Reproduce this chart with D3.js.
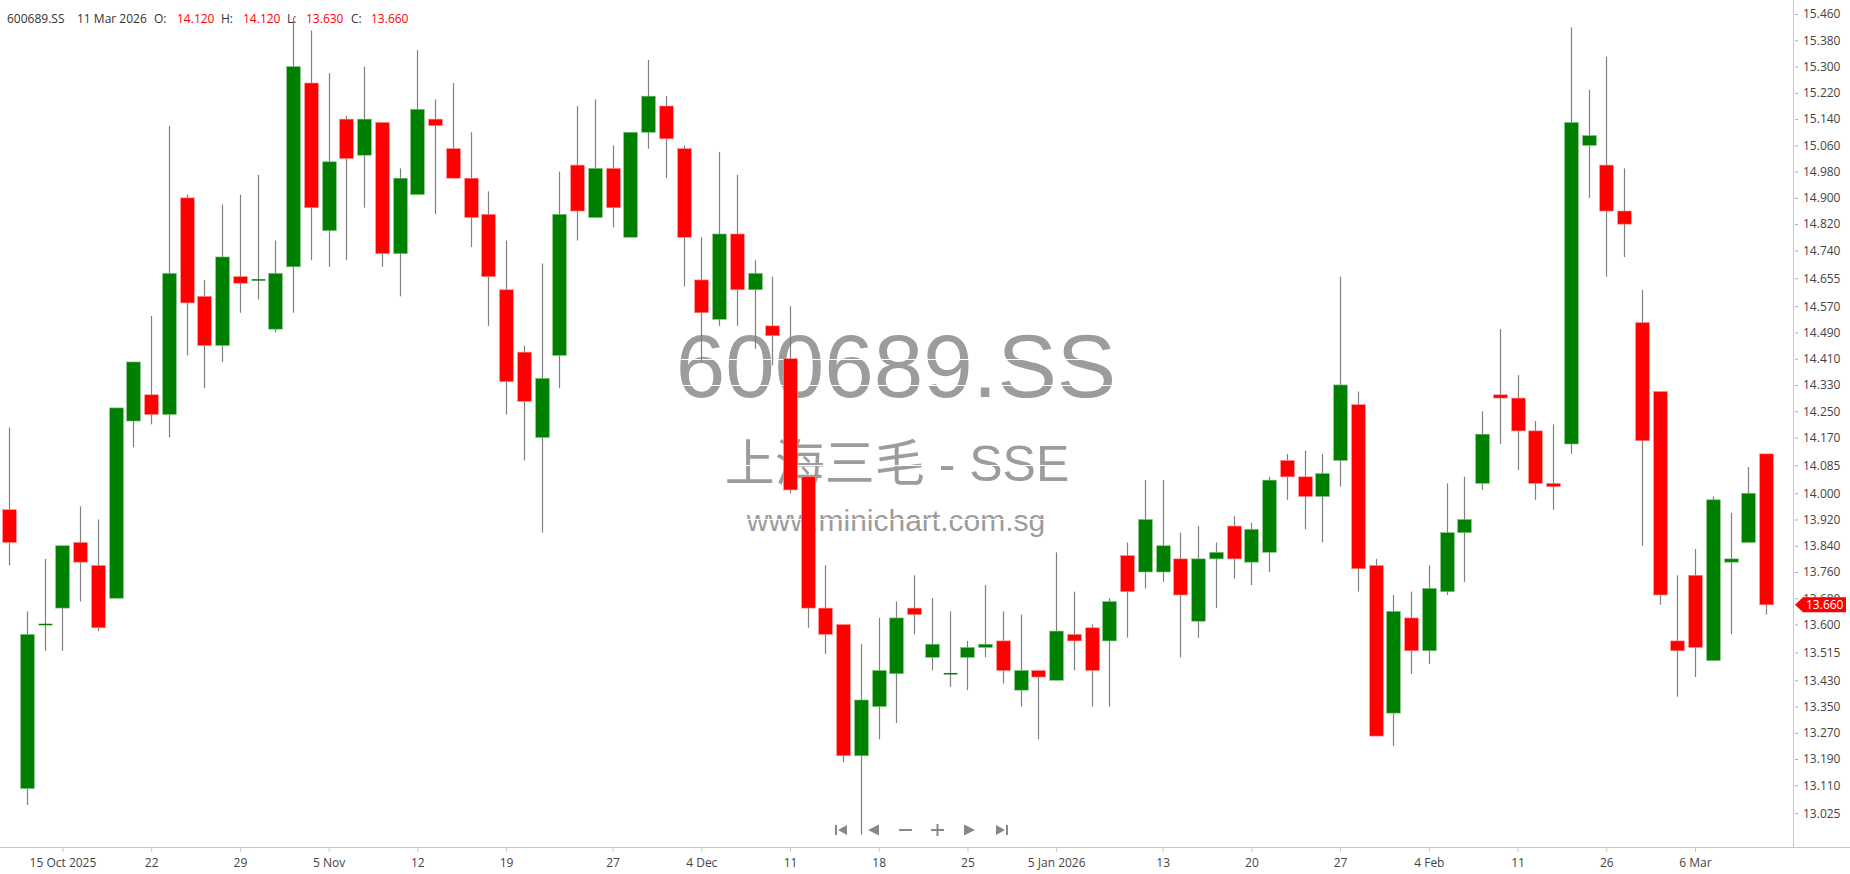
<!DOCTYPE html>
<html><head><meta charset="utf-8">
<script src="https://cdn.jsdelivr.net/npm/d3@7"></script>
<style>
html,body{margin:0;padding:0;background:#fff;overflow:hidden}
svg{display:block}
</style></head><body>
<svg id="c" width="1850" height="874"></svg>
<script>
// ---------------- DATA ----------------
const dates = [
"2025-10-10","2025-10-13","2025-10-14","2025-10-15","2025-10-16","2025-10-17","2025-10-20","2025-10-21","2025-10-22","2025-10-23",
"2025-10-24","2025-10-27","2025-10-28","2025-10-29","2025-10-30","2025-10-31","2025-11-03","2025-11-04","2025-11-05","2025-11-06",
"2025-11-07","2025-11-10","2025-11-11","2025-11-12","2025-11-13","2025-11-14","2025-11-17","2025-11-18","2025-11-19","2025-11-20",
"2025-11-21","2025-11-24","2025-11-25","2025-11-26","2025-11-27","2025-11-28","2025-12-01","2025-12-02","2025-12-03","2025-12-04",
"2025-12-05","2025-12-08","2025-12-09","2025-12-10","2025-12-11","2025-12-12","2025-12-15","2025-12-16","2025-12-17","2025-12-18",
"2025-12-19","2025-12-22","2025-12-23","2025-12-24","2025-12-25","2025-12-26","2025-12-29","2025-12-30","2025-12-31","2026-01-05",
"2026-01-06","2026-01-07","2026-01-08","2026-01-09","2026-01-12","2026-01-13","2026-01-14","2026-01-15","2026-01-16","2026-01-19",
"2026-01-20","2026-01-21","2026-01-22","2026-01-23","2026-01-26","2026-01-27","2026-01-28","2026-01-29","2026-02-02","2026-02-03",
"2026-02-04","2026-02-05","2026-02-06","2026-02-09","2026-02-10","2026-02-11","2026-02-12","2026-02-13","2026-02-24","2026-02-25",
"2026-02-26","2026-02-27","2026-03-02","2026-03-03","2026-03-04","2026-03-05","2026-03-06","2026-03-09","2026-03-10","2026-03-11"];

const open = [
13.95,13.10,13.60,13.65,13.85,13.78,13.68,14.22,14.30,14.24,
14.90,14.60,14.45,14.66,14.65,14.50,14.69,15.25,14.80,15.14,
15.03,15.13,14.73,14.91,15.14,15.05,14.96,14.85,14.62,14.43,
14.17,14.42,15.00,14.84,14.99,14.78,15.10,15.18,15.05,14.65,
14.53,14.79,14.62,14.51,14.41,14.05,13.65,13.60,13.20,13.35,
13.45,13.65,13.50,13.45,13.50,13.53,13.55,13.40,13.46,13.43,
13.57,13.59,13.55,13.81,13.76,13.76,13.80,13.61,13.80,13.90,
13.79,13.82,14.10,14.05,13.99,14.10,14.27,13.78,13.33,13.62,
13.52,13.70,13.88,14.03,14.30,14.29,14.19,14.03,14.15,15.06,
15.00,14.86,14.52,14.31,13.55,13.75,13.49,13.79,13.85,14.12];

const high = [
14.20,13.64,13.80,13.84,13.96,13.92,14.26,14.40,14.54,15.12,
14.91,14.65,14.88,14.91,14.97,14.77,15.45,15.41,15.28,15.15,
15.30,15.13,14.99,15.35,15.20,15.25,15.10,14.92,14.77,14.45,
14.70,14.98,15.18,15.20,15.06,15.10,15.32,15.21,15.06,14.78,
15.04,14.97,14.71,14.66,14.57,14.05,13.78,13.60,13.54,13.62,
13.67,13.75,13.68,13.64,13.55,13.72,13.64,13.63,13.46,13.82,
13.70,13.60,13.68,13.85,14.04,14.04,13.88,13.90,13.85,13.93,
13.91,14.05,14.12,14.13,14.12,14.66,14.31,13.80,13.69,13.70,
13.78,14.03,14.05,14.25,14.50,14.36,14.22,14.21,15.42,15.23,
15.33,14.99,14.62,14.31,13.75,13.83,13.99,13.94,14.08,14.12];

const low = [
13.78,13.05,13.52,13.52,13.67,13.58,13.68,14.14,14.21,14.17,
14.42,14.32,14.40,14.55,14.59,14.49,14.55,14.71,14.69,14.71,
14.87,14.69,14.60,14.91,14.85,14.96,14.75,14.51,14.24,14.10,
13.88,14.32,14.77,14.84,14.81,14.78,15.05,14.96,14.63,14.40,
14.51,14.51,14.44,14.39,14.00,13.59,13.51,13.18,12.96,13.25,
13.30,13.57,13.46,13.41,13.40,13.50,13.42,13.35,13.25,13.43,
13.46,13.35,13.35,13.56,13.71,13.73,13.50,13.56,13.65,13.74,
13.72,13.76,13.98,13.89,13.85,14.02,13.70,13.26,13.23,13.45,
13.48,13.69,13.73,14.01,14.15,14.07,13.98,13.95,14.12,14.90,
14.66,14.72,13.84,13.66,13.38,13.44,13.49,13.57,13.85,13.63];

const close = [
13.85,13.57,13.60,13.84,13.79,13.59,14.26,14.40,14.24,14.67,
14.58,14.45,14.72,14.64,14.65,14.67,15.30,14.87,15.01,15.02,
15.14,14.73,14.96,15.17,15.12,14.96,14.84,14.66,14.34,14.28,
14.35,14.85,14.86,14.99,14.87,15.10,15.21,15.08,14.78,14.55,
14.79,14.62,14.67,14.48,14.01,13.65,13.57,13.20,13.37,13.46,
13.62,13.63,13.54,13.45,13.53,13.54,13.46,13.46,13.44,13.58,
13.55,13.46,13.67,13.70,13.92,13.84,13.69,13.80,13.82,13.80,
13.89,14.04,14.05,13.99,14.06,14.33,13.77,13.26,13.64,13.52,
13.71,13.88,13.92,14.18,14.29,14.19,14.03,14.02,15.13,15.09,
14.86,14.82,14.16,13.69,13.52,13.53,13.98,13.80,14.00,13.66];

const yTickValues = [15.460,15.380,15.300,15.220,15.140,15.060,14.980,14.900,14.820,14.740,
  14.655,14.570,14.490,14.410,14.330,14.250,14.170,14.085,14.000,13.920,
  13.840,13.760,13.680,13.600,13.515,13.430,13.350,13.270,13.190,13.110,13.025];

const xTickDates = ["2025-10-15","2025-10-22","2025-10-29","2025-11-05","2025-11-12","2025-11-19",
  "2025-11-27","2025-12-04","2025-12-11","2025-12-18","2025-12-25","2026-01-05","2026-01-13",
  "2026-01-20","2026-01-27","2026-02-04","2026-02-11","2026-02-26","2026-03-05"];
const xTickLabels = ["15 Oct 2025","22","29","5 Nov","12","19","27","4 Dec","11","18","25",
  "5 Jan 2026","13","20","27","4 Feb","11","26","6 Mar"];

const symbol = "600689.SS";
const companyName = "上海三毛 - SSE";
const site = "www.minichart.com.sg";
const lastDateLabel = "11 Mar 2026";

// ---------------- CHART ----------------
const W = 1850, H = 874;
const plotRight = 1793, plotBottom = 847;
const UP = "#008000", DOWN = "#ff0000", WICK = "#808080", AXIS = "#c8c8c8";
const FONT = "'Open Sans', 'Liberation Sans', sans-serif";

const svg = d3.select("#c");
const x = d3.scalePoint().domain(dates).range([9.2, 1766]);
const y = d3.scaleLinear().domain([12.922, 15.503]).range([plotBottom, 0]);
const bw = x.step() * 0.77;

const data = dates.map((d, i) => ({ d, o: open[i], h: high[i], l: low[i], c: close[i] }));

// watermark
const wm = svg.append("g").attr("fill", "#9c9c9c").attr("text-anchor", "middle");
wm.append("text").attr("x", 896).attr("y", 397)
  .style("font-family", "'Liberation Sans', Arial, sans-serif").style("font-size", "89px").text(symbol);
wm.append("text").attr("x", 897).attr("y", 481)
  .style("font-family", "'Liberation Sans', 'Noto Sans CJK SC', sans-serif").style("font-size", "50px").text(companyName);
wm.append("text").attr("x", 896).attr("y", 531)
  .style("font-family", "'Liberation Sans', Arial, sans-serif").style("font-size", "30px").text(site);

// white grid (visible only over watermark)
svg.append("g").selectAll("line").data(yTickValues).join("line")
  .attr("x1", 0).attr("x2", plotRight)
  .attr("y1", d => Math.round(y(d)) + 0.5).attr("y2", d => Math.round(y(d)) + 0.5)
  .attr("stroke", "#fff").attr("stroke-width", 1);

// candles
const cg = svg.append("g");
cg.selectAll("line.wick").data(data).join("line").attr("class", "wick")
  .attr("x1", d => Math.round(x(d.d)) + 0.5).attr("x2", d => Math.round(x(d.d)) + 0.5)
  .attr("y1", d => y(d.h)).attr("y2", d => y(d.l))
  .attr("stroke", WICK).attr("stroke-width", 1.2);

cg.selectAll("rect.body").data(data).join("rect").attr("class", "body")
  .attr("x", d => Math.round(x(d.d)) + 0.5 - bw / 2)
  .attr("width", bw)
  .attr("y", d => {
    const t = y(Math.max(d.o, d.c)), b = y(Math.min(d.o, d.c));
    return (b - t) < 1.5 ? (t + b) / 2 - 0.75 : t;
  })
  .attr("height", d => Math.max(1.5, Math.abs(y(d.o) - y(d.c))))
  .attr("fill", d => d.c >= d.o ? UP : DOWN)
  .attr("stroke", d => d.c >= d.o ? "#7fc07f" : "#ff8a8a")
  .attr("stroke-width", d => Math.abs(y(d.o) - y(d.c)) < 3 ? 0 : 0.6);

// y axis
svg.append("line").attr("x1", plotRight + 0.5).attr("x2", plotRight + 0.5)
  .attr("y1", 0).attr("y2", plotBottom).attr("stroke", AXIS);
const yAxis = svg.append("g").attr("transform", `translate(${plotRight + 2},0)`)
  .call(d3.axisRight(y).tickValues(yTickValues).tickFormat(d3.format(".3f")).tickSize(3).tickPadding(5));
yAxis.select(".domain").remove();
yAxis.selectAll(".tick line").attr("stroke", "#aaa");
yAxis.selectAll(".tick text").attr("fill", "#444").style("font-family", FONT).style("font-size", "12px");

// x axis
svg.append("line").attr("x1", 0).attr("x2", W).attr("y1", plotBottom + 0.5).attr("y2", plotBottom + 0.5).attr("stroke", AXIS);
const xAxis = svg.append("g").attr("transform", `translate(0,${plotBottom})`)
  .call(d3.axisBottom(x).tickValues(xTickDates).tickFormat((d, i) => xTickLabels[i]).tickSize(5).tickPadding(6));
xAxis.select(".domain").remove();
xAxis.selectAll(".tick line").attr("stroke", AXIS);
xAxis.selectAll(".tick text").attr("fill", "#444").style("font-family", FONT).style("font-size", "12px");

// last price tag
const last = data[data.length - 1];
const ly = y(last.c);
const tagColor = last.c >= last.o ? UP : DOWN;
svg.append("path")
  .attr("d", `M${plotRight + 2},${ly} L${plotRight + 10},${ly - 7.5} L1846,${ly - 7.5} L1846,${ly + 7.5} L${plotRight + 10},${ly + 7.5} Z`)
  .attr("fill", tagColor);
svg.append("text").attr("x", plotRight + 13).attr("y", ly).attr("dy", "0.35em")
  .attr("fill", "#fff").style("font-family", FONT).style("font-size", "12px")
  .text(d3.format(".3f")(last.c));

// header
const hdr = svg.append("g").style("font-family", FONT).style("font-size", "12px");
const f3 = d3.format(".3f");
const valColor = last.c >= last.o ? UP : DOWN;
const hdrItems = [
  [7, symbol, "#333"], [77, lastDateLabel, "#333"],
  [154, "O:", "#333"], [177, f3(last.o), valColor],
  [221, "H:", "#333"], [243, f3(last.h), valColor],
  [287, "L:", "#333"], [306, f3(last.l), valColor],
  [351, "C:", "#333"], [371, f3(last.c), valColor]
];
hdr.selectAll("text").data(hdrItems).join("text")
  .attr("x", d => d[0]).attr("y", 22.5).attr("fill", d => d[2]).text(d => d[1]);

// navigation buttons
const nav = svg.append("g").attr("fill", "#888").attr("stroke", "none");
const cy = 830;
nav.append("rect").attr("x", 835).attr("y", cy - 5).attr("width", 2).attr("height", 10);
nav.append("path").attr("d", `M838,${cy} L847,${cy - 5} L847,${cy + 5} Z`);
nav.append("path").attr("d", `M868,${cy} L879,${cy - 5.5} L879,${cy + 5.5} Z`);
nav.append("rect").attr("x", 899).attr("y", cy - 1).attr("width", 13).attr("height", 2);
nav.append("rect").attr("x", 931).attr("y", cy - 1).attr("width", 13).attr("height", 2);
nav.append("rect").attr("x", 936.5).attr("y", cy - 6).attr("width", 2).attr("height", 12);
nav.append("path").attr("d", `M975,${cy} L964,${cy - 5.5} L964,${cy + 5.5} Z`);
nav.append("path").attr("d", `M1005,${cy} L996,${cy - 5} L996,${cy + 5} Z`);
nav.append("rect").attr("x", 1006).attr("y", cy - 5).attr("width", 2).attr("height", 10);
</script>
</body></html>
